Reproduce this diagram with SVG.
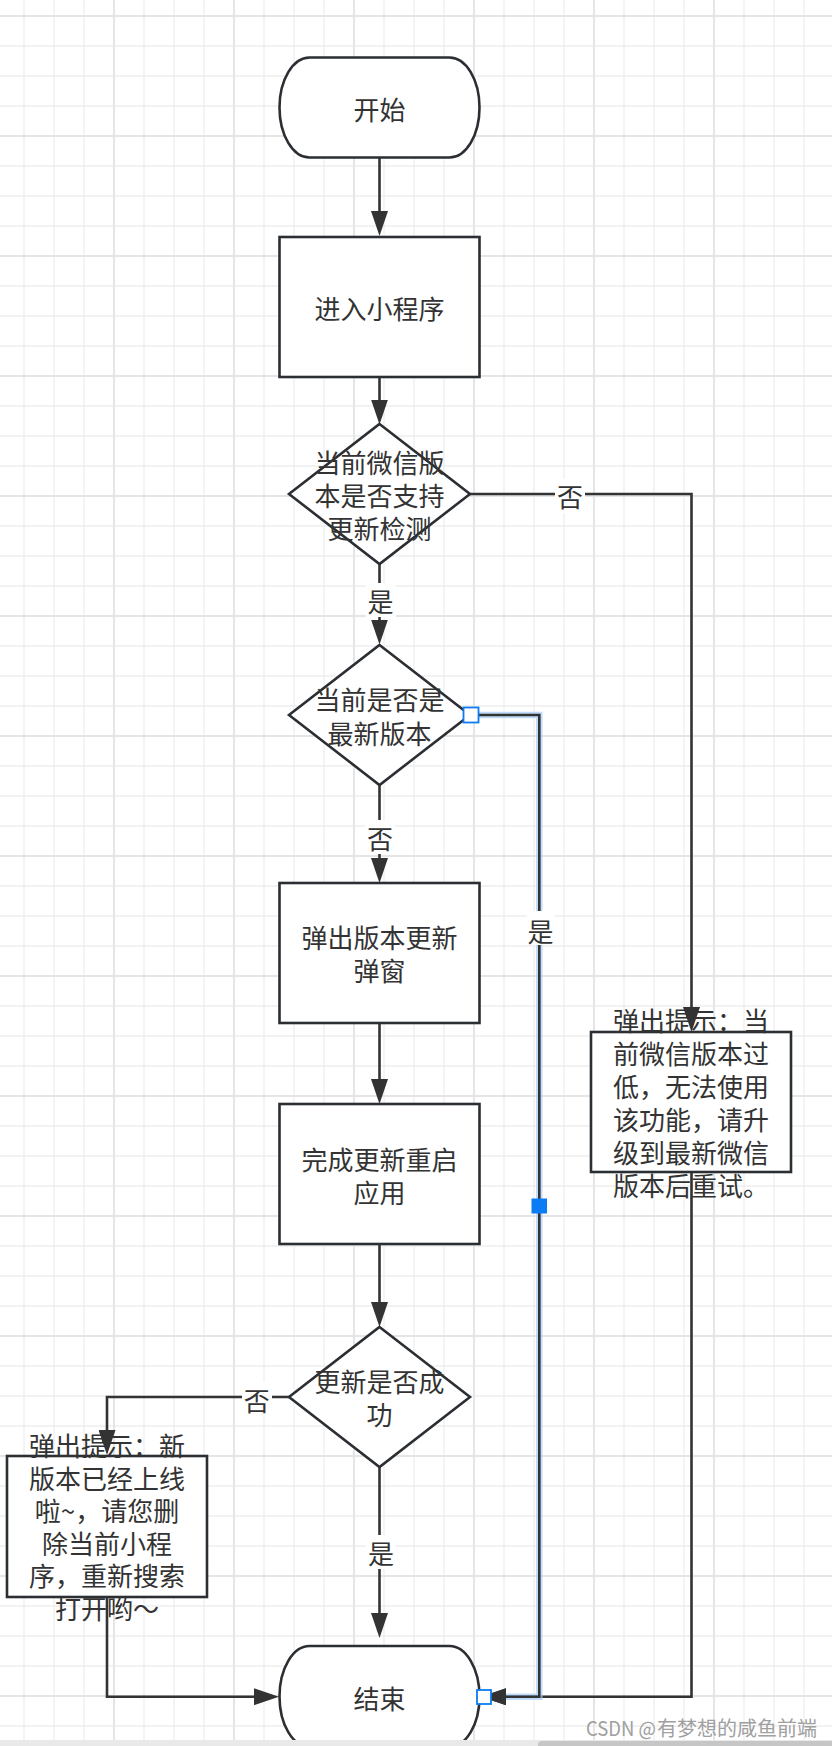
<svg xmlns="http://www.w3.org/2000/svg" width="832" height="1746" viewBox="0 0 832 1746">
<defs>
<pattern id="grid" patternUnits="userSpaceOnUse" x="9" y="1" width="120" height="120">
<path d="M15,0V120M45,0V120M75,0V120M0,45H120M0,75H120M0,105H120" stroke="#eeeeee" stroke-width="1.3" fill="none"/>
<path d="M105,0V120M0,15H120" stroke="#e5e5e5" stroke-width="2" fill="none"/>
</pattern>
<marker id="arr" markerUnits="userSpaceOnUse" viewBox="0 0 25 17" markerWidth="25" markerHeight="17" refX="12" refY="8.5" orient="auto">
<path d="M0,0 L25,8.5 L0,17 Z" fill="#333"/>
</marker>
<style>
.n{fill:#fff;stroke:#2b2f33;stroke-width:2.6}
.t{font-family:"Noto Sans CJK SC","Noto Sans",sans-serif;font-size:26px;fill:#333;text-anchor:middle;dominant-baseline:central}
.c{fill:none;stroke:#333;stroke-width:2.6}
.lb{fill:#fff}
.glow{fill:none;stroke:#a6cdf8;stroke-width:6.5;stroke-opacity:0.7}
.h{fill:#fff;stroke:#0b7cf3;stroke-width:1.8}
.hf{fill:#0b7cf3}
.wm{font-family:"Noto Sans CJK SC","Liberation Sans",sans-serif;font-size:20px;fill:#a0a0a0;dominant-baseline:central}
</style>
</defs>
<rect width="832" height="1746" fill="#fff"/>
<rect width="832" height="1746" fill="url(#grid)"/>

<g id="start">
<rect class="n" x="279.5" y="57.5" width="200" height="100" rx="30" ry="50"/>
<text class="t" x="379.5" y="108">开始</text>
</g>
<g id="enter">
<rect class="n" x="279.5" y="237" width="200" height="140"/>
<text class="t" x="379.5" y="307">进入小程序</text>
</g>
<g id="check-support">
<polygon class="n" points="379.5,424 470,494 379.5,564 289,494"/>
<text class="t" x="379.5" y="461.5">当前微信版<tspan x="379.5" dy="32.5">本是否支持</tspan><tspan x="379.5" dy="32.5">更新检测</tspan></text>
</g>
<g id="check-latest">
<polygon class="n" points="379.5,645 470,715 379.5,785 289,715"/>
<text class="t" x="379.5" y="698.5">当前是否是<tspan x="379.5" dy="33">最新版本</tspan></text>
</g>
<g id="popup-update">
<rect class="n" x="279.5" y="883" width="200" height="140"/>
<text class="t" x="379.5" y="936.5">弹出版本更新<tspan x="379.5" dy="32.8">弹窗</tspan></text>
</g>
<g id="restart">
<rect class="n" x="279.5" y="1104" width="200" height="140"/>
<text class="t" x="379.5" y="1158.5">完成更新重启<tspan x="379.5" dy="32.5">应用</tspan></text>
</g>
<g id="check-success">
<polygon class="n" points="379.5,1327 470,1397 379.5,1467 289,1397"/>
<text class="t" x="379.5" y="1380">更新是否成<tspan x="379.5" dy="32.7">功</tspan></text>
</g>
<g id="tip-low-version">
<rect class="n" x="591" y="1032" width="200" height="140"/>
<text class="t" x="691" y="1019.5">弹出提示：当<tspan x="691" dy="32.8">前微信版本过</tspan><tspan x="691" dy="32.8">低，无法使用</tspan><tspan x="691" dy="32.8">该功能，请升</tspan><tspan x="691" dy="32.8">级到最新微信</tspan><tspan x="691" dy="32.8">版本后重试。</tspan></text>
</g>
<g id="tip-reopen">
<rect class="n" x="7" y="1456" width="200" height="141"/>
<text class="t" x="107" y="1444">弹出提示：新<tspan x="107" dy="32.5">版本已经上线</tspan><tspan x="107" dy="32.5">啦~，请您删</tspan><tspan x="107" dy="32.5">除当前小程</tspan><tspan x="107" dy="32.5">序，重新搜索</tspan><tspan x="107" dy="32.5">打开哟～</tspan></text>
</g>
<g id="end">
<rect class="n" x="279.5" y="1646" width="200" height="101" rx="30" ry="50.5"/>
<text class="t" x="379.5" y="1697">结束</text>
</g>

<g id="connectors">
<path class="c" d="M379.5,158V223" marker-end="url(#arr)"/>
<path class="c" d="M379.5,377V411.5" marker-end="url(#arr)"/>
<path class="c" d="M379.5,564V631.5" marker-end="url(#arr)"/>
<rect class="lb" x="366" y="583" width="30" height="34"/>
<text class="t" x="380.5" y="600">是</text>
<path class="c" d="M470,494H691.5V1019" marker-end="url(#arr)"/>
<rect class="lb" x="555" y="479" width="30" height="34"/>
<text class="t" x="570" y="495.5">否</text>
<path class="c" d="M379.5,785V870" marker-end="url(#arr)"/>
<rect class="lb" x="365" y="820" width="30" height="34"/>
<text class="t" x="380" y="837.5">否</text>
<path class="c" d="M379.5,1023V1091" marker-end="url(#arr)"/>
<path class="c" d="M379.5,1244V1314" marker-end="url(#arr)"/>
<path class="c" d="M289,1397H107V1442" marker-end="url(#arr)"/>
<rect class="lb" x="242" y="1382" width="30" height="34"/>
<text class="t" x="256.7" y="1399">否</text>
<path class="c" d="M379.5,1467V1625" marker-end="url(#arr)"/>
<rect class="lb" x="366" y="1535" width="30" height="34"/>
<text class="t" x="381" y="1552">是</text>
<path class="c" d="M107,1597V1696.7H266" marker-end="url(#arr)"/>
<path class="c" d="M691.5,1172V1696.7H494" marker-end="url(#arr)"/>
<g id="selected-connector">
<path class="glow" d="M471,715H539.3V1696.7H506"/>
<path class="c" d="M471,715H539.3V1696.7H494" marker-end="url(#arr)"/>
<rect class="lb" x="526.5" y="911" width="28.5" height="34"/>
<text class="t" x="540.6" y="930">是</text>
<rect class="h" x="463.5" y="707.5" width="15" height="15"/>
<rect class="hf" x="531.5" y="1198.5" width="15.5" height="15"/>
<rect class="h" x="477" y="1690" width="14" height="14"/>
</g>
</g>

<text class="wm" x="586" y="1727" font-family="Liberation Sans" textLength="70" lengthAdjust="spacingAndGlyphs">CSDN @</text>
<text class="wm" x="657" y="1727" textLength="160">有梦想的咸鱼前端</text>
<rect x="0" y="1740" width="832" height="6" fill="#e9e9e9"/>
<rect x="538" y="1741" width="300" height="8" rx="4" fill="#c6c6c6"/>
</svg>
